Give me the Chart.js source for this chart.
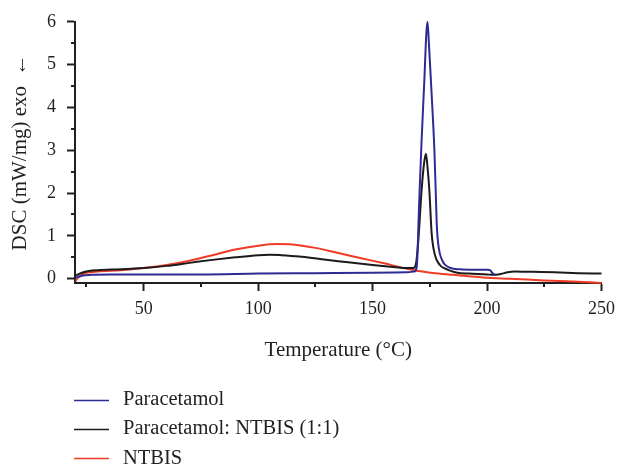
<!DOCTYPE html>
<html><head><meta charset="utf-8">
<script src="https://cdn.jsdelivr.net/npm/chart.js@4.4.1/dist/chart.umd.min.js"></script>
<style>html,body{margin:0;padding:0;background:#fff;overflow:hidden}#wrap{position:relative;width:622px;height:464px}</style>
</head><body><div id="wrap"><canvas id="c" width="622" height="464"></canvas></div>
<script>
// ---- data ----
const seriesLabels = ['Paracetamol', 'Paracetamol: NTBIS (1:1)', 'NTBIS'];
const seriesColors = ['#2e2b94', '#1c1a1b', '#ef3b26'];

const tempParacetamol = [20.5, 23, 27, 35, 50, 75, 100, 125, 150, 165, 168.3, 169.3, 170.3, 171.4, 172.6, 173.5, 174.0, 174.6, 175.5, 176.3, 177.0, 177.6, 178.1, 178.7, 179.4, 180.5, 181.6, 184, 188, 195, 200.4, 201.5, 202.5, 203.5];
const dscParacetamol  = [0.03, 0.07, 0.09, 0.1, 0.1, 0.1, 0.12, 0.13, 0.14, 0.15, 0.17, 0.28, 1.7, 3.22, 4.62, 5.75, 6.0, 5.5, 4.6, 3.8, 3.0, 2.0, 1.2, 0.8, 0.58, 0.42, 0.33, 0.25, 0.22, 0.21, 0.21, 0.19, 0.12, 0.09];

const tempMix = [20.5, 23, 26, 30, 40, 50, 60, 70, 80, 90, 100, 105, 110, 118, 127, 135, 150, 160, 165, 167.8, 169.0, 170.0, 171.4, 172.5, 173.3, 174.0, 174.8, 175.8, 177.2, 179.4, 181.5, 183.8, 187, 192, 200, 202.6, 206, 209, 212, 220, 229.4, 240, 250];
const dscMix  = [0.08, 0.14, 0.18, 0.2, 0.22, 0.25, 0.3, 0.37, 0.44, 0.5, 0.55, 0.56, 0.55, 0.52, 0.46, 0.41, 0.32, 0.27, 0.25, 0.25, 0.36, 0.9, 2.06, 2.7, 2.92, 2.6, 2.06, 1.06, 0.56, 0.32, 0.24, 0.19, 0.14, 0.12, 0.1, 0.09, 0.11, 0.15, 0.17, 0.16, 0.15, 0.13, 0.12];

const tempNtbis = [20.3, 21.5, 23, 25, 30, 40, 50, 60, 70, 80, 90, 100, 108, 115, 125, 135, 145, 155, 163.5, 170, 178.7, 185.2, 192, 200.4, 210, 225, 240, 250];
const dscNtbis  = [-0.05, 0.03, 0.1, 0.14, 0.17, 0.2, 0.25, 0.32, 0.42, 0.55, 0.68, 0.77, 0.81, 0.8, 0.72, 0.6, 0.48, 0.36, 0.25, 0.18, 0.12, 0.09, 0.06, 0.02, 0.0, -0.04, -0.07, -0.1];

const xTickValues = [25, 50, 75, 100, 125, 150, 175, 200, 225, 250];
const xTickLabels = ['', '50', '', '100', '', '150', '', '200', '', '250'];
const yTickValues = [0, 0.5, 1, 1.5, 2, 2.5, 3, 3.5, 4, 4.5, 5, 5.5, 6];
const yTickLabels = ['0', '', '1', '', '2', '', '3', '', '4', '', '5', '', '6'];

const xTitle = 'Temperature (°C)';
const yTitle = 'DSC (mW/mg) exo  ←';

// ---- chart ----
const FONT = "'Liberation Serif', 'DejaVu Serif', serif";
const INK = '#231f20';
const zip = (xs, ys) => xs.map((x, i) => ({x: x, y: ys[i]}));
const seriesData = [zip(tempParacetamol, dscParacetamol), zip(tempMix, dscMix), zip(tempNtbis, dscNtbis)];

const isMajorX = v => xTickLabels[xTickValues.indexOf(v)] !== '';
const isMajorY = v => yTickLabels[yTickValues.indexOf(v)] !== '';

const minorTicks = {
  id: 'minorTicks',
  afterDraw(chart) {
    const ctx = chart.ctx, xs = chart.scales.x, ys = chart.scales.y;
    const a = chart.chartArea;
    ctx.save();
    ctx.strokeStyle = INK; ctx.lineWidth = 2;
    xTickValues.forEach(v => {
      if (isMajorX(v)) return;
      const p = Math.round(xs.getPixelForValue(v));
      ctx.beginPath(); ctx.moveTo(p, a.bottom); ctx.lineTo(p, a.bottom + 4); ctx.stroke();
    });
    yTickValues.forEach(v => {
      if (isMajorY(v)) return;
      const p = Math.round(ys.getPixelForValue(v));
      ctx.beginPath(); ctx.moveTo(a.left - 4, p); ctx.lineTo(a.left, p); ctx.stroke();
    });
    ctx.restore();
  }
};

const legendRows = {
  id: 'legendRows',
  afterDraw(chart) {
    const ctx = chart.ctx;
    const lineY = [400.5, 429.5, 458.5];
    const baseY = [405, 434.3, 463.6];
    ctx.save();
    chart.data.datasets.forEach((ds, i) => {
      ctx.strokeStyle = ds.borderColor; ctx.lineWidth = 1.5;
      ctx.beginPath(); ctx.moveTo(74, lineY[i]); ctx.lineTo(109, lineY[i]); ctx.stroke();
      ctx.fillStyle = INK;
      ctx.font = '20.5px ' + FONT;
      ctx.textBaseline = 'alphabetic'; ctx.textAlign = 'left';
      ctx.fillText(ds.label, 123, baseY[i]);
    });
    ctx.restore();
  }
};

new Chart(document.getElementById('c'), {
  type: 'line',
  data: {
    datasets: seriesLabels.map((lab, i) => ({
      label: lab,
      data: seriesData[i],
      borderColor: seriesColors[i],
      backgroundColor: seriesColors[i],
      borderWidth: 2,
      pointRadius: 0,
      fill: false,
      cubicInterpolationMode: 'monotone',
      clip: 6
    }))
  },
  options: {
    responsive: false,
    animation: false,
    devicePixelRatio: 1,
    layout: {padding: {left: 0, top: 20, right: 18, bottom: 101}},
    plugins: {legend: {display: false}, tooltip: {enabled: false}},
    scales: {
      x: {
        type: 'linear', position: 'bottom', min: 20, max: 250,
        afterBuildTicks: s => { s.ticks = xTickValues.map(v => ({value: v})); },
        afterFit: s => { s.height = 80; },
        ticks: {
          autoSkip: false, maxRotation: 0, padding: 7, color: INK,
          font: {family: FONT, size: 18},
          callback: v => xTickLabels[xTickValues.indexOf(v)]
        },
        grid: {display: true, drawOnChartArea: false, drawTicks: true, tickLength: 8, tickWidth: 2,
               tickColor: c => (c.tick && isMajorX(c.tick.value)) ? INK : 'rgba(0,0,0,0)'},
        border: {display: true, color: INK, width: 2},
        title: {display: true, text: xTitle, color: INK, font: {family: FONT, size: 21}, padding: {top: 0, bottom: 0}}
      },
      y: {
        type: 'linear', position: 'left', min: -0.1, max: 6,
        afterBuildTicks: s => { s.ticks = yTickValues.map(v => ({value: v})); },
        afterFit: s => { s.width = 75; },
        ticks: {
          autoSkip: false, padding: 11, color: INK,
          font: {family: FONT, size: 18},
          callback: v => yTickLabels[yTickValues.indexOf(v)]
        },
        grid: {display: true, drawOnChartArea: false, drawTicks: true, tickLength: 8, tickWidth: 2,
               tickColor: c => (c.tick && isMajorY(c.tick.value)) ? INK : 'rgba(0,0,0,0)'},
        border: {display: true, color: INK, width: 2},
        title: {display: true, text: yTitle, color: INK, font: {family: FONT, size: 21}, padding: {top: 8, bottom: 0}}
      }
    }
  },
  plugins: [minorTicks, legendRows]
});
</script>
</body></html>
